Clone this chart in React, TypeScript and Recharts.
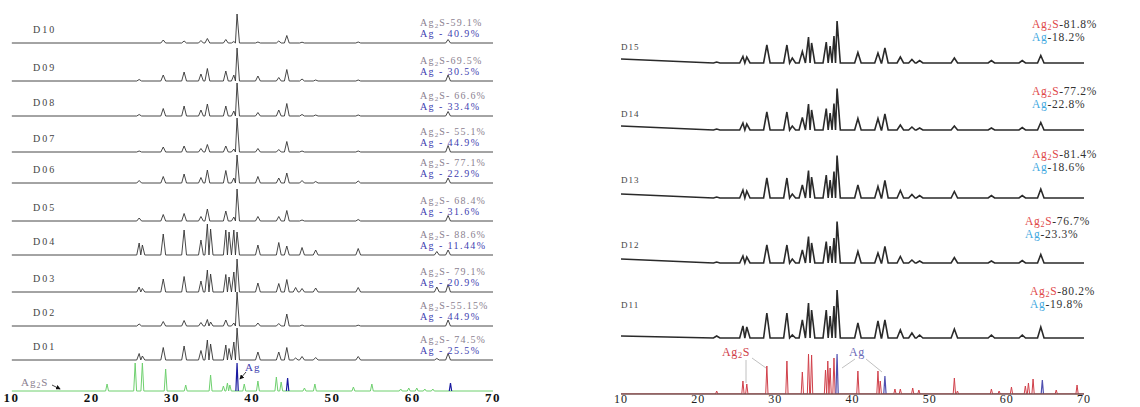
import React from 'react';
import { LineChart, Line, XAxis, YAxis } from 'recharts';

// ---- left panel (D10..D01 over Ag2S / Ag reference patterns) ----
const leftSamples = ['D10', 'D09', 'D08', 'D07', 'D06', 'D05', 'D04', 'D03', 'D02', 'D01'];
const leftAg2S = ['-59.1%', '-69.5%', '- 66.6%', '- 55.1%', '- 77.1%', '- 68.4%', '- 88.6%', '- 79.1%', '-55.15%', '- 74.5%'];
const leftAg = ['40.9%', '30.5%', '33.4%', '44.9%', '22.9%', '31.6%', '11.44%', '20.9%', '44.9%', '25.5%'];

// 2θ of the peaks seen in the left traces
const leftPeaks = [25.9, 26.3, 28.9, 31.5, 33.6, 34.4, 34.8, 36.7, 37.1, 37.7, 38.1, 40.7, 43.3, 44.3, 45.4, 46.2, 47.9, 53.2, 63.0, 64.4];
const d10 = [0, 0, 3, 2, 2.5, 4.5, 0, 3.5, 0, 1.5, 29, 1, 2, 7.5, 0, 0.8, 0, 1, 0, 3.5];
const d09 = [1.5, 0, 6, 9, 7, 12.5, 0, 10, 0, 6, 33, 5, 3.5, 11.5, 0, 2, 1, 1, 0, 6];
const d08 = [1.5, 0, 7.5, 10, 6, 12, 0, 10, 0, 5, 33, 3.5, 6, 12.5, 0, 1.5, 1, 1, 0, 4.5];
const d07 = [1, 0, 5, 6, 3.5, 7.5, 0, 6, 0, 3, 34, 3.5, 2.5, 10.5, 0, 1, 0, 1, 0, 6.5];
const d06 = [2.5, 0, 6.5, 9, 5.5, 13, 0, 12.5, 0, 5, 28, 6.5, 5, 10, 0, 2.5, 1.5, 2, 0, 5];
const d05 = [3, 0, 6.5, 7.5, 4.5, 12, 0, 10, 0, 4, 32, 4.5, 4.5, 10.5, 0, 1, 0, 1.5, 0, 5.5];
const d04 = [12, 10, 21, 25, 15, 31, 26, 25, 23, 25, 23, 10, 12.5, 9, 0, 7.5, 5, 6.5, 3.5, 5];
const d03 = [5, 3.5, 13, 15.5, 11, 22, 18, 17.5, 15, 20, 33, 9, 8.5, 12.5, 4.5, 3.5, 4, 4.5, 5, 7.5];
const d02 = [2, 0, 4.5, 5.5, 3.5, 6.5, 4, 6, 0, 3, 34, 3, 2.5, 12, 0, 1, 0, 0.8, 0, 6];
const d01 = [6.5, 4, 12.5, 14, 9.5, 20, 16, 15, 11.5, 18, 32, 8, 8, 12.5, 2, 3.5, 2.5, 3.5, 1.5, 6.5];
const leftSeries = [d10, d09, d08, d07, d06, d05, d04, d03, d02, d01];

const greenPos = [21.9, 25.4, 26.3, 29.2, 31.7, 34.8, 36.4, 36.9, 37.2, 39.0, 40.7, 43.0, 43.6, 46.5, 47.8, 52.6, 54.9, 58.5, 59.5, 60.5, 61.5, 62.5];
const greenH = [7, 28, 28, 22, 6, 16, 5, 8, 6, 7, 10, 14, 9, 3, 7, 4, 7, 2, 3, 3, 2, 2];
const blueLeftPos = [38.1, 44.4, 64.7];
const blueLeftH = [28, 13, 8];

// ---- right panel (D15..D11 over Ag2S / Ag reference) ----
const rightSamples = ['D15', 'D14', 'D13', 'D12', 'D11'];
const rightAg2S = ['-81.8%', '-77.2%', '-81.4%', '-76.7%', '-80.2%'];
const rightAg = ['-18.2%', '-22.8%', '-18.6%', '-23.3%', '-19.8%'];

const rightPeaks = [22.4, 25.8, 26.3, 28.9, 31.5, 32.2, 33.5, 34.3, 34.7, 36.6, 37.1, 37.6, 38.0, 40.7, 43.3, 44.2, 46.2, 47.7, 48.7, 53.2, 58.0, 62.0, 64.4];
const d15 = [1, 6.5, 6, 18, 18, 5, 11.5, 26, 20, 21, 17, 27, 42, 10.5, 10, 15, 6, 3.5, 2.5, 5, 2.5, 2.5, 7.5];
const d14 = [1, 7, 6, 18, 18, 4, 12.5, 26, 20, 21.5, 17, 26.5, 41.5, 11.5, 11.5, 16, 5, 3, 2, 4, 2, 2.5, 7.5];
const d13 = [1, 8, 7, 20, 20, 4, 13, 27.5, 21, 23, 18, 26.5, 42.5, 13, 11.5, 17.5, 7.5, 3.5, 2.5, 6.5, 2.5, 2.5, 9];
const d12 = [1, 7, 6, 18, 18, 4, 13, 26.5, 20, 21.5, 17, 25, 41.5, 11.5, 10, 16.5, 6.5, 3, 2, 5.5, 2, 2.5, 8.5];
const d11 = [2, 12, 11, 25, 25, 3, 18, 35, 28, 28, 22, 32, 48, 15, 17, 18, 8, 5, 3, 9, 3, 3, 11];
const rightSeries = [d15, d14, d13, d12, d11];
const rightStart = [4, 4, 4, 4, 2];

const redPos = [22.4, 25.8, 26.3, 28.9, 31.5, 33.5, 34.3, 34.7, 36.5, 36.8, 37.1, 37.6, 40.7, 43.3, 43.6, 45.5, 46.2, 47.8, 48.6, 53.2, 53.6, 58.0, 59.0, 60.6, 62.4, 62.8, 63.4, 66.4, 69.1];
const redH = [3, 13, 10, 28, 33, 22, 40, 39, 24, 33, 26, 36, 23, 23, 13, 5, 5, 6, 4, 16, 3, 5, 3, 7, 8, 11, 15, 4, 9];
const blueRightPos = [38.0, 44.2, 64.6];
const blueRightH = [40, 18, 14];

const xTicks = [10, 20, 30, 40, 50, 60, 70];

// layout: vertical offsets of the stacked traces (chart units = px)
const leftBase = [349, 311, 276, 240, 209, 171, 137, 100, 66, 32];
const rightBase = [333, 266, 198, 133, 58];
const rightLabelY = [25, 92, 155, 222, 292];
const rightNameY = [47, 114, 180, 245, 305];
const rightLabelX = [1032, 1032, 1032, 1025, 1030];

type Pt = { x: number; y: number | null };

// polyline: baseline -> apex -> baseline for every peak
// sticks=true leaves the baseline out (gaps between peaks)
function trace(pos: number[], h: number[], half: number, base: number, start = 0, sticks = false): Pt[] {
  const idx = pos.map((_, i) => i).filter(i => h[i] > 0);
  const pts: Pt[] = sticks ? [] : [{ x: 10, y: base + start }];
  idx.forEach((i, k) => {
    const p = pos[i];
    const prev = k > 0 ? pos[idx[k - 1]] : -Infinity;
    const next = k < idx.length - 1 ? pos[idx[k + 1]] : Infinity;
    pts.push({ x: Math.max(p - half, (p + prev) / 2), y: base });
    pts.push({ x: p, y: base + h[i] });
    pts.push({ x: Math.min(p + half, (p + next) / 2), y: base });
    if (sticks) pts.push({ x: p + half, y: null });
  });
  if (!sticks) pts.push({ x: 70, y: base });
  return pts;
}

const serif = '"Liberation Serif", "Times New Roman", serif';

const Sub2 = () => (
  <>
    <tspan fontSize="0.7em" dy={2}>2</tspan>
    <tspan dy={-2}>S</tspan>
  </>
);

const LeftPanel = () => (
  <LineChart width={510} height={407} margin={{ top: 0, right: 17, bottom: 0, left: 11.6 }}>
    <XAxis
      type="number"
      dataKey="x"
      domain={[10, 70]}
      ticks={xTicks}
      interval={0}
      allowDataOverflow
      height={15}
      axisLine={false}
      tickLine={false}
      tickSize={0}
      tickMargin={1}
      tick={{ fontSize: 13, fontWeight: 'bold', fill: '#111', fontFamily: serif, letterSpacing: 1.5 }}
    />
    <YAxis type="number" dataKey="y" domain={[0, 392]} hide allowDataOverflow />
    {leftSeries.map((h, i) => (
      <Line
        key={leftSamples[i]}
        data={trace(leftPeaks, h, 0.3, leftBase[i])}
        dataKey="y"
        type="linear"
        dot={false}
        stroke="#333"
        strokeWidth={0.9}
        isAnimationActive={false}
      />
    ))}
    <Line data={trace(greenPos, greenH, 0.18, 1)} dataKey="y" type="linear" dot={false} stroke="#6fd06f" strokeWidth={1} isAnimationActive={false} />
    <Line data={trace(blueLeftPos, blueLeftH, 0.15, 1, 0, true)} dataKey="y" type="linear" dot={false} stroke="#1a1aa0" strokeWidth={1.2} connectNulls={false} isAnimationActive={false} />
  </LineChart>
);

const RightPanel = () => (
  <LineChart width={540} height={407} margin={{ top: 0, right: 56, bottom: 0, left: 21 }}>
    <XAxis
      type="number"
      dataKey="x"
      domain={[10, 70]}
      ticks={xTicks}
      interval={0}
      allowDataOverflow
      height={13}
      axisLine={{ stroke: '#7a5050', strokeWidth: 1.5 }}
      tickLine={false}
      tickSize={0}
      tickMargin={0}
      tick={{ fontSize: 12, fill: '#222', fontFamily: serif, letterSpacing: 1 }}
    />
    <YAxis type="number" dataKey="y" domain={[0, 394]} hide allowDataOverflow />
    {rightSeries.map((h, i) => (
      <Line
        key={rightSamples[i]}
        data={trace(rightPeaks, h, 0.42, rightBase[i] - 2, rightStart[i])}
        dataKey="y"
        type="linear"
        dot={false}
        stroke="#2a2a2a"
        strokeWidth={1.6}
        isAnimationActive={false}
      />
    ))}
    <Line data={trace(redPos, redH, 0.15, 0)} dataKey="y" type="linear" dot={false} stroke="#d0404a" strokeWidth={1} isAnimationActive={false} />
    <Line data={trace(blueRightPos, blueRightH, 0.15, 0, 0, true)} dataKey="y" type="linear" dot={false} stroke="#5050b0" strokeWidth={1.2} connectNulls={false} isAnimationActive={false} />
  </LineChart>
);

const Annotations = () => (
  <svg width={1140} height={407} style={{ position: 'absolute', left: 0, top: 0, pointerEvents: 'none' }} fontFamily={serif}>
    <defs>
      <marker id="arr" markerWidth="6" markerHeight="6" refX="5" refY="3" orient="auto">
        <path d="M0,0 L6,3 L0,6 z" fill="#111" />
      </marker>
    </defs>
    {leftSamples.map((s, i) => {
      const b = 392 - leftBase[i];
      return (
        <g key={s}>
          <text x={33} y={b - 10} fontSize={10} fill="#444" letterSpacing={2}>{s}</text>
          <text x={420} y={b - 17} fontSize={10} fill="#8b7f8f" letterSpacing={1.2}>
            Ag<Sub2 />{leftAg2S[i]}
          </text>
          <text x={420} y={b - 6} fontSize={10} fill="#4040b0" letterSpacing={1.4}>
            Ag - {leftAg[i]}
          </text>
        </g>
      );
    })}
    <text x={21} y={386} fontSize={11} fill="#8b7f8f" letterSpacing={1}>Ag<Sub2 /></text>
    <line x1={52} y1={385} x2={60} y2={389} stroke="#111" strokeWidth={0.8} markerEnd="url(#arr)" />
    <text x={245} y={371} fontSize={11} fill="#4040b0" letterSpacing={1}>Ag</text>
    <line x1={246} y1={372} x2={240} y2={379} stroke="#111" strokeWidth={0.8} markerEnd="url(#arr)" />

    {rightSamples.map((s, i) => (
      <g key={s}>
        <text x={621} y={rightNameY[i] + 3} fontSize={9} fill="#444" letterSpacing={1}>{s}</text>
        <text x={rightLabelX[i]} y={rightLabelY[i] + 3} fontSize={11.5} letterSpacing={0.7}>
          <tspan fill="#e04848">Ag</tspan>
          <tspan fill="#e04848" fontSize="0.7em" dy={2}>2</tspan>
          <tspan fill="#e04848" dy={-2}>S</tspan>
          <tspan fill="#333">{rightAg2S[i]}</tspan>
        </text>
        <text x={rightLabelX[i]} y={rightLabelY[i] + 15.5} fontSize={11.5} letterSpacing={0.7}>
          <tspan fill="#3fa9e0">Ag</tspan>
          <tspan fill="#333">{rightAg[i]}</tspan>
        </text>
      </g>
    ))}
    <text x={722} y={356} fontSize={12} fill="#d0404a" letterSpacing={0.6}>Ag<Sub2 /></text>
    <line x1={746} y1={360} x2={746} y2={383} stroke="#b0b0b0" strokeWidth={0.8} />
    <line x1={752} y1={358} x2={766} y2={368} stroke="#b0b0b0" strokeWidth={0.8} />
    <text x={849} y={356} fontSize={12} fill="#6a6ab8" letterSpacing={0.6}>Ag</text>
    <line x1={855} y1={359} x2={842} y2={368} stroke="#b0b0b0" strokeWidth={0.8} />
    <line x1={866} y1={359} x2={882} y2={372} stroke="#b0b0b0" strokeWidth={0.8} />
  </svg>
);

export default function App() {
  return (
    <div style={{ position: 'absolute', left: 0, top: 0, width: 1140, height: 407, background: '#fff', overflow: 'hidden' }}>
      <div style={{ position: 'absolute', left: 0, top: 0 }}>
        <LeftPanel />
      </div>
      <div style={{ position: 'absolute', left: 600, top: 0 }}>
        <RightPanel />
      </div>
      <Annotations />
    </div>
  );
}
